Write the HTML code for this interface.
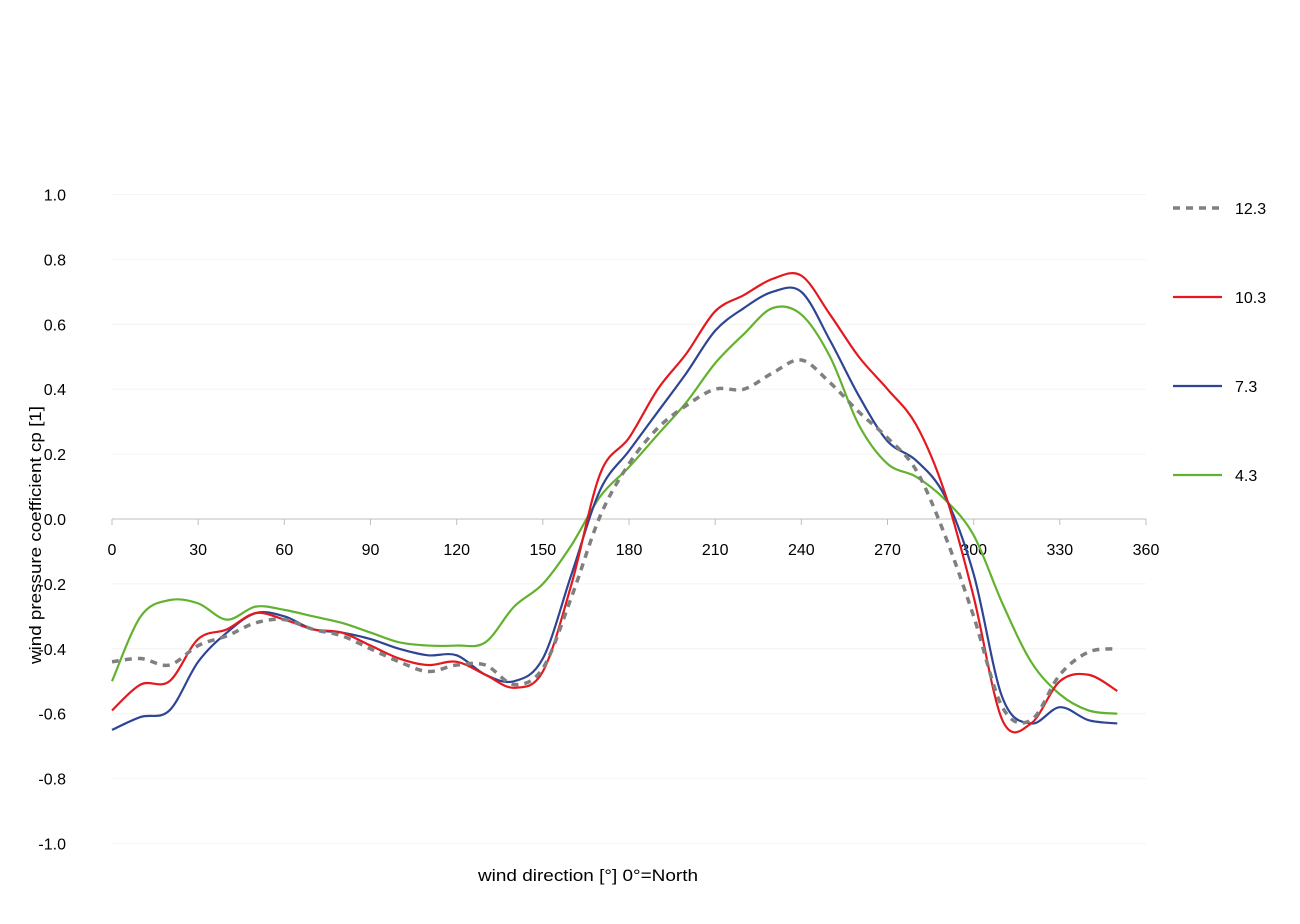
<!DOCTYPE html>
<html><head><meta charset="utf-8"><style>
body{margin:0;background:#fff;}
svg text{font-family:"Liberation Sans",Arial,sans-serif;font-size:16px;fill:#000;}
</style></head><body>
<svg id="chart" width="1300" height="919">
<g id="grid"></g><g id="axes"></g><g id="series"></g><g id="legend"></g>
<text x="588" y="881" text-anchor="middle" style="font-size:17px" textLength="220" lengthAdjust="spacingAndGlyphs">wind direction [°] 0°=North</text>
<text transform="translate(41,535) rotate(-90)" text-anchor="middle" style="font-size:17px" textLength="258" lengthAdjust="spacingAndGlyphs">wind pressure coefficient cp [1]</text>
</svg>
<script>
const angles=[0,10,20,30,40,50,60,70,80,90,100,110,120,130,140,150,160,170,180,190,200,210,220,230,240,250,260,270,280,290,300,310,320,330,340,350];
const s123=[-0.44,-0.43,-0.45,-0.39,-0.36,-0.32,-0.31,-0.34,-0.36,-0.40,-0.44,-0.47,-0.45,-0.45,-0.51,-0.46,-0.24,0.01,0.17,0.28,0.35,0.40,0.40,0.45,0.49,0.42,0.33,0.25,0.15,-0.05,-0.30,-0.58,-0.62,-0.48,-0.41,-0.40];
const s103=[-0.59,-0.51,-0.50,-0.37,-0.34,-0.29,-0.31,-0.34,-0.35,-0.39,-0.43,-0.45,-0.44,-0.48,-0.52,-0.47,-0.20,0.14,0.25,0.40,0.51,0.64,0.69,0.74,0.75,0.63,0.50,0.40,0.29,0.08,-0.24,-0.62,-0.63,-0.50,-0.48,-0.53];
const s73=[-0.65,-0.61,-0.59,-0.44,-0.35,-0.29,-0.30,-0.34,-0.35,-0.37,-0.40,-0.42,-0.42,-0.48,-0.50,-0.43,-0.17,0.09,0.21,0.33,0.45,0.58,0.65,0.70,0.70,0.55,0.38,0.24,0.18,0.07,-0.17,-0.55,-0.63,-0.58,-0.62,-0.63];
const s43=[-0.50,-0.30,-0.25,-0.26,-0.31,-0.27,-0.28,-0.30,-0.32,-0.35,-0.38,-0.39,-0.39,-0.38,-0.27,-0.20,-0.08,0.07,0.16,0.26,0.36,0.48,0.57,0.65,0.63,0.50,0.29,0.17,0.13,0.06,-0.05,-0.26,-0.44,-0.54,-0.59,-0.60];
const xTicks=[0,30,60,90,120,150,180,210,240,270,300,330,360];
const yTicks=[1.0,0.8,0.6,0.4,0.2,0.0,-0.2,-0.4,-0.6,-0.8,-1.0];
const seriesNames=["12.3","10.3","7.3","4.3"];
const NS="http://www.w3.org/2000/svg";
const X=v=>112+v*(1034/360);
const Y=v=>519-v*324.5;
function mk(tag,attrs,parent){const e=document.createElementNS(NS,tag);for(const k in attrs)e.setAttribute(k,attrs[k]);parent.appendChild(e);return e;}
const grid=document.getElementById('grid'),axes=document.getElementById('axes'),ser=document.getElementById('series'),leg=document.getElementById('legend');
yTicks.forEach(t=>{
 if(t!==0){const g=mk('line',{x1:112,x2:1146,y1:Y(t),y2:Y(t),stroke:'#f4f4f4','stroke-width':1},grid);
 
 }
 const tx=mk('text',{x:66,y:Y(t)+6,'text-anchor':'end'},axes);tx.textContent=t.toFixed(1);
 
 
});
const ax=mk('line',{x1:112,x2:1146,y1:519,y2:519,stroke:'#bfbfbf','stroke-width':1},axes);


xTicks.forEach(t=>{
 const tk=mk('line',{x1:X(t),x2:X(t),y1:519,y2:525,stroke:'#bfbfbf'},axes);
 
 
 const tx=mk('text',{x:X(t),y:555,'text-anchor':'middle'},axes);tx.textContent=t;
 
 
});
function path(vals){
 const p=angles.map((a,i)=>[X(a),Y(vals[i])]);
 let d='M'+p[0][0]+','+p[0][1];
 for(let i=0;i<p.length-1;i++){
  const p0=p[Math.max(i-1,0)],p1=p[i],p2=p[i+1],p3=p[Math.min(i+2,p.length-1)];
  d+=' C'+(p1[0]+(p2[0]-p0[0])/6)+','+(p1[1]+(p2[1]-p0[1])/6)+' '+(p2[0]-(p3[0]-p1[0])/6)+','+(p2[1]-(p3[1]-p1[1])/6)+' '+p2[0]+','+p2[1];
 }
 return d;
}
const all=[s123,s103,s73,s43];
const colors=['#808080','#e3191f','#2e4593','#63b22f'];
const dashes=['7,6','','',''];
[3,2,1,0].forEach(i=>{
 const l=mk('path',{d:path(all[i]),fill:'none',stroke:colors[i],'stroke-width':i===0?3.5:2.2,'stroke-dasharray':dashes[i]},ser);
 
 
});
seriesNames.forEach((n,i)=>{
 const y=208+i*89;
 const g=mk('g',{},leg);
 
 
 mk('line',{x1:1173,x2:1222,y1:y,y2:y,stroke:colors[i],'stroke-width':i===0?3.5:2.2,'stroke-dasharray':dashes[i]},g);
 const t=mk('text',{x:1235,y:y+6},g);t.textContent=n;
});
</script>
</body></html>
